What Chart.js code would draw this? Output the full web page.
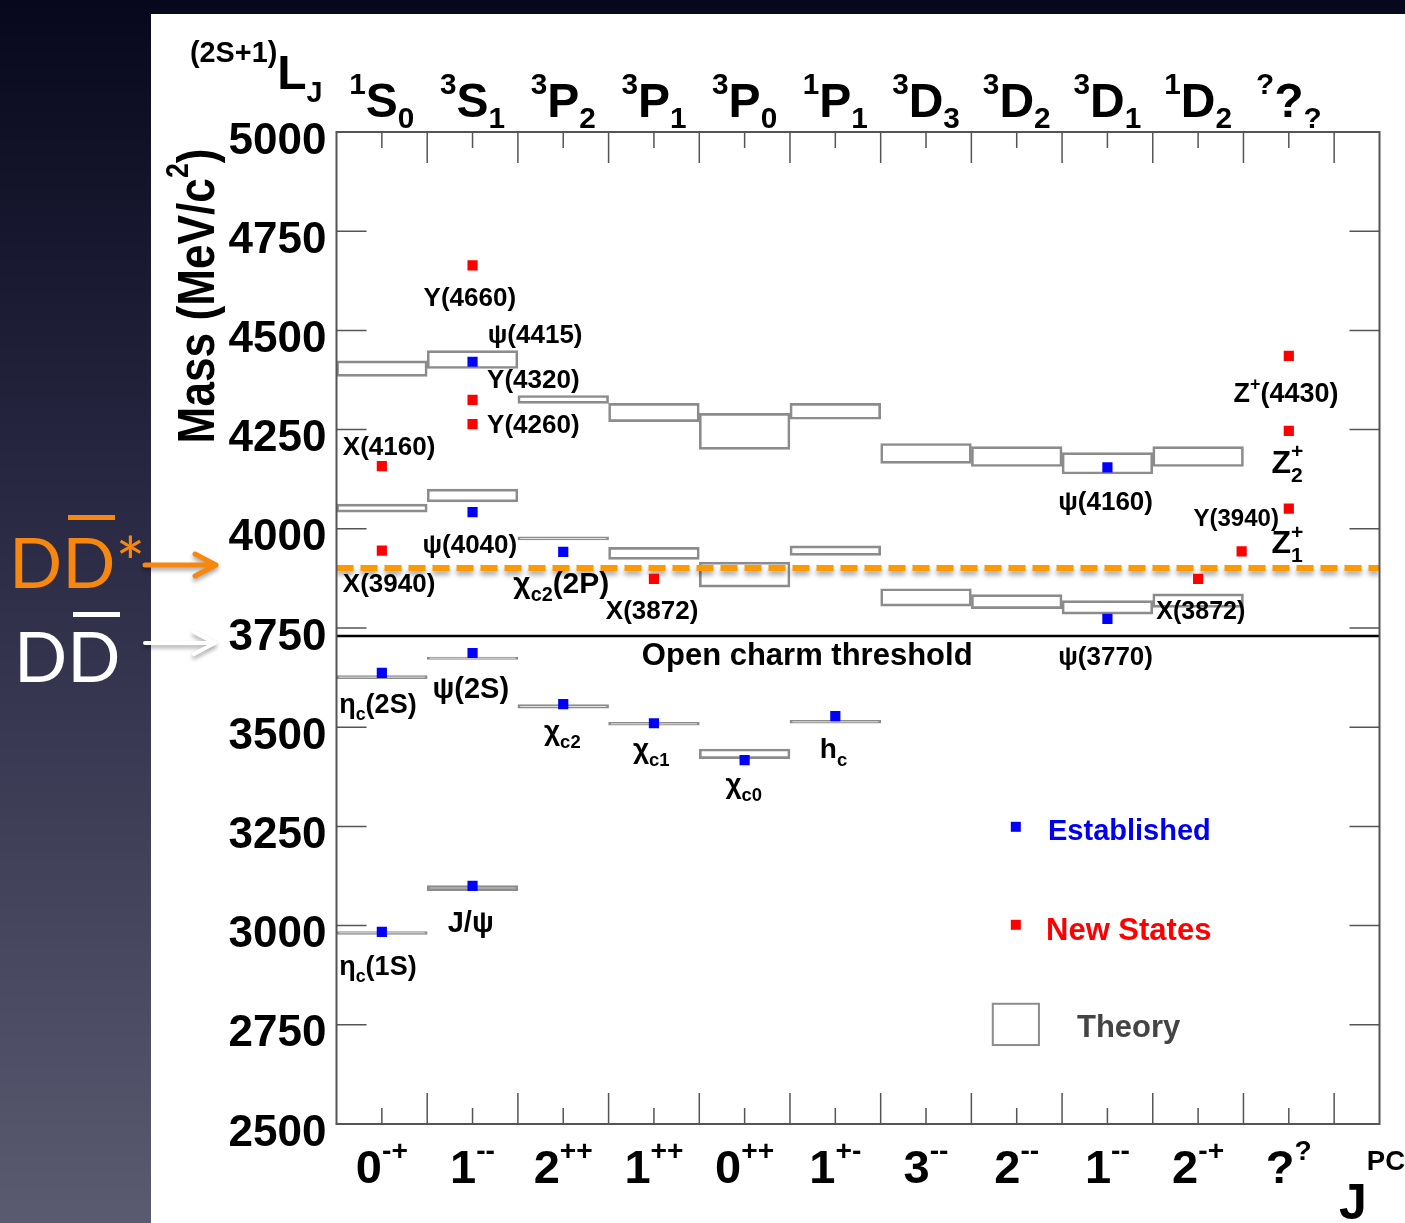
<!DOCTYPE html>
<html>
<head>
<meta charset="utf-8">
<title>Charmonium spectrum</title>
<script src="https://cdn.jsdelivr.net/npm/chart.js@4.4.1/dist/chart.umd.min.js"></script>
<style>
  html, body { margin: 0; padding: 0; background: #0a0a22; }
  canvas { display: block; }
</style>
</head>
<body>
<canvas id="spectrum" width="1405" height="1223"></canvas>
<script>
// J^PC along the bottom, one per column
const jpcLabels = ['0^{-+}', '1^{--}', '2^{++}', '1^{++}', '0^{++}', '1^{+-}', '3^{--}', '2^{--}', '1^{--}', '2^{-+}', '?^{?}'];
// spectroscopic notation along the top
const stateLabels = ['^{1}S_{0}', '^{3}S_{1}', '^{3}P_{2}', '^{3}P_{1}', '^{3}P_{0}', '^{1}P_{1}', '^{3}D_{3}', '^{3}D_{2}', '^{3}D_{1}', '^{1}D_{2}', '^{?}?_{?}'];
const massTicks = [2500, 2750, 3000, 3250, 3500, 3750, 4000, 4250, 4500, 4750, 5000];

// [column index, mass MeV/c2]
const established = [
  [0, 2984], [0, 3637],
  [1, 3100], [1, 3687], [1, 4042], [1, 4421],
  [2, 3558], [2, 3942],
  [3, 3510],
  [4, 3417],
  [5, 3528],
  [8, 3773], [8, 4155],
];
const newStates = [
  [0, 3945], [0, 4158],
  [1, 4264], [1, 4325], [1, 4664],
  [3, 3874],
  [9, 3874], [9.48, 3943],
  [10, 4436], [10, 4247], [10, 4051],
];
// [column index, low, high] predicted levels
const theory = [
  [0, 2978, 2985], [0, 3622, 3630], [0, 4042, 4062], [0, 4384, 4423],
  [1, 3088, 3101], [1, 3671, 3677], [1, 4068, 4100], [1, 4404, 4449],
  [2, 3548, 3557], [2, 3972, 3980], [2, 4316, 4336],
  [3, 3505, 3512], [3, 3923, 3953], [3, 4270, 4316],
  [4, 3421, 3445], [4, 3853, 3916], [4, 4200, 4291],
  [5, 3510, 3517], [5, 3933, 3957], [5, 4276, 4316],
  [6, 3805, 3849], [6, 4165, 4215],
  [7, 3799, 3834], [7, 4157, 4207],
  [8, 3785, 3819], [8, 4138, 4192],
  [9, 3802, 3836], [9, 4157, 4207],
];

const openCharmThreshold = 3730;
const ddStarThreshold = 3901;

// name tags: text, x (axis units, column edges at integers), mass, size, align
const stateNames = [
  ['Y(4660)', 1.47, 4561, 26, 'center'],
  ['ψ(4415)', 2.19, 4468, 26, 'center'],
  ['Y(4320)', 2.17, 4355, 26, 'center'],
  ['Y(4260)', 2.17, 4241, 26, 'center'],
  ['X(4160)', 0.58, 4186, 26, 'center'],
  ['ψ(4040)', 1.47, 3939, 26, 'center'],
  ['X(3940)', 0.58, 3841, 26, 'center'],
  ['χ_{c2}(2P)', 1.95, 3839, 30, 'left'],
  ['X(3872)', 3.48, 3773, 26, 'center'],
  ['Open charm threshold', 5.19, 3657, 31, 'center'],
  ['ψ(4160)', 8.48, 4047, 26, 'center'],
  ['ψ(3770)', 8.48, 3657, 26, 'center'],
  ['X(3872)', 9.53, 3773, 25, 'center'],
  ['Y(3940)', 9.92, 4007, 24, 'center'],
  ['Z^{+}(4430)', 10.47, 4320, 27, 'center'],
  ['Z^{+}_{2}', 10.31, 4141, 32, 'left'],
  ['Z^{+}_{1}', 10.31, 3939, 32, 'left'],
  ['η_{c}(2S)', 0.03, 3536, 27, 'left'],
  ['ψ(2S)', 1.48, 3574, 29, 'center'],
  ['χ_{c2}', 2.49, 3468, 28, 'center'],
  ['χ_{c1}', 3.47, 3422, 28, 'center'],
  ['χ_{c0}', 4.49, 3334, 28, 'center'],
  ['h_{c}', 5.48, 3422, 28, 'center'],
  ['J/ψ', 1.48, 2984, 29, 'center'],
  ['η_{c}(1S)', 0.03, 2876, 27, 'left'],
];

const FONT = '"Liberation Sans", Arial, Helvetica, sans-serif';
const xMax = jpcLabels.length + 0.5;

function splitScripts(str) {
  const parts = [];
  let buf = '';
  for (let i = 0; i < str.length; ) {
    const c = str[i];
    if ((c === '^' || c === '_') && str[i + 1] === '{') {
      if (buf) { parts.push({ t: buf, mode: 'n' }); buf = ''; }
      const end = str.indexOf('}', i);
      parts.push({ t: str.slice(i + 2, end), mode: c === '^' ? 'sup' : 'sub' });
      i = end + 1;
    } else {
      buf += c;
      i++;
    }
  }
  if (buf) parts.push({ t: buf, mode: 'n' });
  return parts;
}

// text with ^{} and _{} scripts, y is the baseline
function drawRich(ctx, str, x, y, o) {
  const size = o.size;
  const ss = o.script || 0.62, up = o.up || 0.45, down = o.down || 0.22;
  const font = (s) => (o.weight || 'bold') + ' ' + s + 'px ' + FONT;
  const items = [];
  let pos = 0, last = null;
  splitScripts(str).forEach((p) => {
    const s = p.mode === 'n' ? size : size * ss;
    ctx.font = font(s);
    const w = ctx.measureText(p.t).width;
    let x0 = pos;
    if (last && last.mode !== 'n' && p.mode !== 'n' && last.mode !== p.mode) {
      x0 = last.x0;
      pos = Math.max(pos, x0 + w);
    } else {
      pos += w;
    }
    const dy = p.mode === 'sup' ? -size * up : p.mode === 'sub' ? size * down : 0;
    items.push({ t: p.t, s, x0, dy });
    last = { mode: p.mode, x0 };
  });
  const off = o.align === 'center' ? -pos / 2 : o.align === 'right' ? -pos : 0;
  ctx.save();
  ctx.translate(x, y);
  if (o.rot) ctx.rotate(o.rot);
  ctx.scale(o.sx || 1, 1);
  ctx.fillStyle = o.color || '#000';
  ctx.textAlign = 'left';
  ctx.textBaseline = 'alphabetic';
  items.forEach((it) => {
    ctx.font = font(it.s);
    ctx.fillText(it.t, off + it.x0, it.dy);
  });
  ctx.restore();
}

function arrow(ctx, x0, x1, y, color, w) {
  ctx.beginPath();
  ctx.moveTo(x0, y);
  ctx.lineTo(x1, y);
  ctx.moveTo(x1 - 21, y - 11);
  ctx.lineTo(x1, y);
  ctx.lineTo(x1 - 21, y + 11);
  ctx.strokeStyle = color;
  ctx.lineWidth = w;
  ctx.lineCap = 'round';
  ctx.lineJoin = 'round';
  ctx.stroke();
}

const spectrumPlugin = {
  id: 'spectrum',
  beforeDraw(chart) {
    const ctx = chart.ctx, W = chart.width, H = chart.height;
    const g = ctx.createLinearGradient(0, 0, 0, H);
    g.addColorStop(0, '#07071d');
    g.addColorStop(0.45, '#2c2c47');
    g.addColorStop(1, '#5a5a71');
    ctx.fillStyle = g;
    ctx.fillRect(0, 0, W, H);
    ctx.fillStyle = '#ffffff';
    ctx.fillRect(151, 14, W - 151, H - 14);
  },
  beforeDatasetDraw(chart, args) {
    if (chart.data.datasets[args.index].glow) {
      const ctx = chart.ctx;
      ctx.save();
      ctx.shadowColor = 'rgba(0,0,0,0.35)';
      ctx.shadowBlur = 5;
      ctx.shadowOffsetY = 4;
    }
  },
  afterDatasetDraw(chart, args) {
    if (chart.data.datasets[args.index].glow) chart.ctx.restore();
  },
  afterDraw(chart) {
    const ctx = chart.ctx;
    const { left, right, top, bottom } = chart.chartArea;
    const xs = chart.scales.x, ys = chart.scales.y;

    // frame and inward ticks
    ctx.save();
    ctx.strokeStyle = '#555';
    ctx.lineWidth = 2;
    ctx.strokeRect(left, top, right - left, bottom - top);
    ctx.lineWidth = 1.5;
    ctx.beginPath();
    for (let k = 0; k < jpcLabels.length; k++) {
      const xe = xs.getPixelForValue(k + 1);
      ctx.moveTo(xe, top); ctx.lineTo(xe, top + 31);
      ctx.moveTo(xe, bottom); ctx.lineTo(xe, bottom - 31);
      const xc = xs.getPixelForValue(k + 0.5);
      ctx.moveTo(xc, top); ctx.lineTo(xc, top + 16);
      ctx.moveTo(xc, bottom); ctx.lineTo(xc, bottom - 16);
    }
    massTicks.forEach((v) => {
      const y = ys.getPixelForValue(v);
      ctx.moveTo(left, y); ctx.lineTo(left + 30, y);
      ctx.moveTo(right, y); ctx.lineTo(right - 30, y);
    });
    ctx.stroke();

    // mass tick labels
    ctx.fillStyle = '#000';
    ctx.font = 'bold 44px ' + FONT;
    ctx.textAlign = 'right';
    ctx.textBaseline = 'alphabetic';
    massTicks.forEach((v) => ctx.fillText(String(v), left - 10, ys.getPixelForValue(v) + 21.5));
    ctx.restore();

    // column labels
    jpcLabels.forEach((t, i) => {
      drawRich(ctx, t, xs.getPixelForValue(i + 0.5), bottom + 59, { size: 47, align: 'center', script: 0.6, up: 0.5 });
    });
    stateLabels.forEach((t, i) => {
      drawRich(ctx, t, xs.getPixelForValue(i + 0.5), top - 15, { size: 48, align: 'center', script: 0.62, up: 0.48, down: 0.22 });
    });
    drawRich(ctx, '^{(2S+1)}L_{J}', 190, 89, { size: 48, script: 0.6, up: 0.56, down: 0.27 });
    drawRich(ctx, 'J^{PC}', 1339, 1219, { size: 50, script: 0.55, up: 0.98 });
    drawRich(ctx, 'Mass (MeV/c^{2})', 214, 296, { size: 52, align: 'center', rot: -Math.PI / 2, sx: 0.85, script: 0.6, up: 0.5 });

    // state names
    stateNames.forEach(([t, x, m, size, align]) => {
      drawRich(ctx, t, xs.getPixelForValue(x), ys.getPixelForValue(m), { size, align, script: 0.66, up: 0.45, down: 0.28 });
    });

    // legend
    ctx.save();
    const lx = xs.getPixelForValue(7.49), tx = xs.getPixelForValue(7.845);
    ctx.fillStyle = '#0000ff';
    ctx.fillRect(lx - 5, ys.getPixelForValue(3249) - 5, 10, 10);
    ctx.fillStyle = '#ff0000';
    ctx.fillRect(lx - 5, ys.getPixelForValue(3002) - 5, 10, 10);
    ctx.strokeStyle = '#8c8c8c';
    ctx.lineWidth = 2;
    const bx0 = xs.getPixelForValue(7.236), bx1 = xs.getPixelForValue(7.745);
    const by0 = ys.getPixelForValue(2803), by1 = ys.getPixelForValue(2699);
    ctx.strokeRect(bx0, by0, bx1 - bx0, by1 - by0);
    ctx.restore();
    drawRich(ctx, 'Established', tx, ys.getPixelForValue(3216), { size: 29, color: '#0000ee' });
    drawRich(ctx, 'New States', tx - 2, ys.getPixelForValue(2964), { size: 31, color: '#ff0000' });
    drawRich(ctx, 'Theory', xs.getPixelForValue(8.164), ys.getPixelForValue(2719), { size: 31, color: '#444' });

    // slide notes on the left
    ctx.save();
    ctx.font = '70px Lato, "Open Sans", sans-serif';
    ctx.textAlign = 'left';
    ctx.textBaseline = 'alphabetic';
    ctx.fillStyle = '#f7870f';
    ctx.fillText('DD*', 9, 588);
    ctx.fillRect(68, 515, 47, 5);
    ctx.fillStyle = '#ffffff';
    ctx.fillText('DD', 14, 682);
    ctx.fillRect(73, 612, 47, 5);
    ctx.shadowColor = 'rgba(0,0,0,0.35)';
    ctx.shadowBlur = 4;
    ctx.shadowOffsetY = 3;
    arrow(ctx, 145, 216, 565, '#f7870f', 5);
    arrow(ctx, 145, 215, 643, '#ffffff', 4);
    ctx.restore();
  },
};

new Chart(document.getElementById('spectrum'), {
  type: 'scatter',
  data: {
    datasets: [
      {
        label: 'Established',
        data: established.map(([c, m]) => ({ x: c + 0.5, y: m })),
        pointStyle: 'rect',
        pointRadius: 7.2,
        backgroundColor: '#0000ff',
        borderWidth: 0,
      },
      {
        label: 'New States',
        data: newStates.map(([c, m]) => ({ x: c + 0.5, y: m })),
        pointStyle: 'rect',
        pointRadius: 7.2,
        backgroundColor: '#ff0000',
        borderWidth: 0,
      },
      {
        type: 'line',
        label: 'DD* threshold',
        data: [{ x: 0, y: ddStarThreshold }, { x: xMax, y: ddStarThreshold }],
        borderColor: '#ff9900',
        borderWidth: 6,
        borderDash: [17, 7],
        pointRadius: 0,
        glow: true,
      },
      {
        type: 'line',
        label: 'Open charm threshold',
        data: [{ x: 0, y: openCharmThreshold }, { x: xMax, y: openCharmThreshold }],
        borderColor: '#000',
        borderWidth: 2.5,
        pointRadius: 0,
      },
      {
        type: 'bar',
        label: 'Theory',
        data: theory.map(([c, lo, hi]) => ({ x: c + 0.5, y: [lo, hi] })),
        backgroundColor: 'rgba(255,255,255,0)',
        borderColor: '#8c8c8c',
        borderWidth: 2,
        borderSkipped: false,
        barPercentage: 1,
        categoryPercentage: 1,
        grouped: false,
      },
    ],
  },
  options: {
    responsive: false,
    devicePixelRatio: 1,
    animation: false,
    events: [],
    layout: { padding: { left: 336.5, top: 132, right: 25.5, bottom: 99 } },
    plugins: { legend: { display: false }, tooltip: { enabled: false } },
    scales: {
      x: {
        type: 'linear',
        min: 0,
        max: xMax,
        offset: false,
        display: false,
        afterBuildTicks: (s) => {
          s.ticks = jpcLabels.map((_, i) => ({ value: i })).concat([{ value: jpcLabels.length }]);
        },
      },
      y: { type: 'linear', min: 2500, max: 5000, display: false },
    },
  },
  plugins: [spectrumPlugin],
});
</script>
</body>
</html>
